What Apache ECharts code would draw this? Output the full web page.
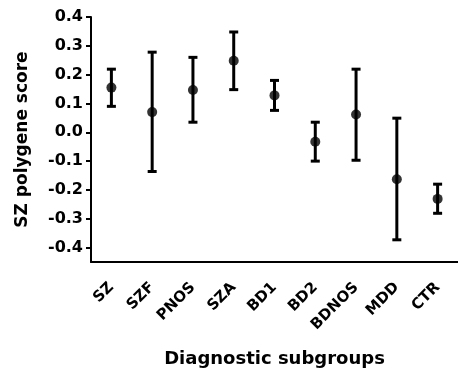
<!DOCTYPE html>
<html>
<head>
<meta charset="utf-8">
<script src="https://cdn.jsdelivr.net/npm/echarts@6/dist/echarts.min.js"></script>
<style>
  html, body { margin: 0; padding: 0; background: #fff; }
  #chart { width: 458px; height: 373px; }
</style>
</head>
<body>
<div id="chart"></div>
<script>
// diagnostic subgroups and their polygene score: mean with lower / upper bound
var groups = ['SZ', 'SZF', 'PNOS', 'SZA', 'BD1', 'BD2', 'BDNOS', 'MDD', 'CTR'];
var means  = [0.155, 0.070, 0.147, 0.248, 0.128, -0.033, 0.062, -0.163, -0.231];
var lower  = [0.090, -0.136, 0.035, 0.148, 0.076, -0.100, -0.097, -0.373, -0.281];
var upper  = [0.219, 0.278, 0.260, 0.348, 0.180, 0.035, 0.219, 0.049, -0.180];
var yTicks = [-0.4, -0.3, -0.2, -0.1, 0.0, 0.1, 0.2, 0.3, 0.4];

var font = 'DejaVu Sans';

var chart = echarts.init(document.getElementById('chart'));

var barData = groups.map(function (g, i) { return [i, lower[i], upper[i]]; });
var pointData = groups.map(function (g, i) { return [i, means[i]]; });

function renderErrorBar(params, api) {
  var x = api.value(0);
  var top = api.coord([x, api.value(2)]);
  var bot = api.coord([x, api.value(1)]);
  var hw = 4.5;
  var style = { stroke: '#000', lineWidth: 3 };
  return {
    type: 'group',
    children: [
      { type: 'line', shape: { x1: top[0], y1: top[1], x2: bot[0], y2: bot[1] }, style: style },
      { type: 'line', shape: { x1: top[0] - hw, y1: top[1], x2: top[0] + hw, y2: top[1] }, style: style },
      { type: 'line', shape: { x1: bot[0] - hw, y1: bot[1], x2: bot[0] + hw, y2: bot[1] }, style: style }
    ]
  };
}

var option = {
  animation: false,
  backgroundColor: '#fff',
  grid: { left: 91, right: -6, top: 17, bottom: 109 },
  xAxis: {
    type: 'category',
    data: groups,
    boundaryGap: true,
    name: 'Diagnostic subgroups',
    nameLocation: 'middle',
    nameGap: 88,
    nameTextStyle: { fontFamily: font, fontWeight: 'bold', fontSize: 18, color: '#000' },
    axisLine: { onZero: false, lineStyle: { color: '#000', width: 2 } },
    axisTick: { alignWithLabel: true, length: 6, lineStyle: { color: '#000', width: 2 } },
    axisLabel: { rotate: 45, margin: 23, fontFamily: font, fontWeight: 'bold', fontSize: 15, color: '#000' },
    splitLine: { show: false }
  },
  yAxis: {
    type: 'value',
    min: -0.45,
    max: 0.4,
    name: 'SZ polygene score',
    nameLocation: 'middle',
    nameGap: 60,
    nameTextStyle: { fontFamily: font, fontWeight: 'bold', fontSize: 17, color: '#000' },
    axisLine: { show: true, lineStyle: { color: '#000', width: 2 } },
    axisTick: { show: true, length: 5, customValues: yTicks, lineStyle: { color: '#000', width: 2 } },
    axisLabel: {
      customValues: yTicks,
      margin: 8,
      fontFamily: font, fontWeight: 'bold', fontSize: 16, color: '#000',
      formatter: function (v) { return v.toFixed(1); }
    },
    splitLine: { show: false }
  },
  series: [
    {
      type: 'custom',
      renderItem: renderErrorBar,
      data: barData,
      z: 2
    },
    {
      type: 'scatter',
      data: pointData,
      symbol: 'circle',
      symbolSize: 10,
      itemStyle: { color: '#000' },
      z: 3
    }
  ]
};

chart.setOption(option);
</script>
</body>
</html>
